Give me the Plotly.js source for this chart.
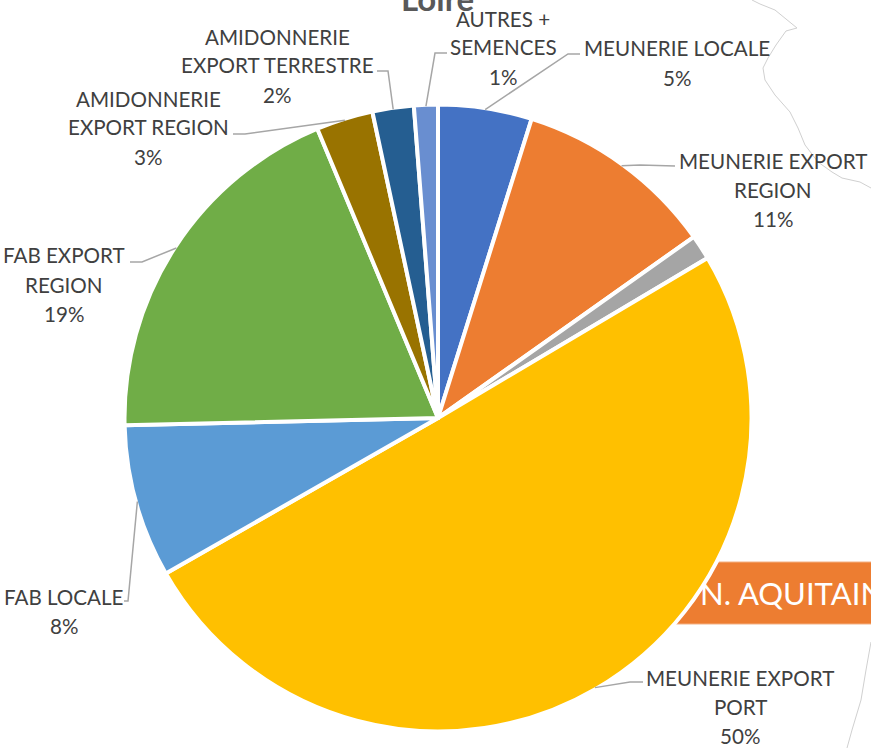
<!DOCTYPE html>
<html><head><meta charset="utf-8">
<script src="https://cdn.plot.ly/plotly-3.0.1.min.js"></script>
<style>html,body{margin:0;padding:0;background:#fff;overflow:hidden}#c{width:871px;height:748px}</style>
</head><body><div id="c"></div>
<script>
const W = 871, H = 748;
const categories = ['MEUNERIE LOCALE','MEUNERIE EXPORT REGION','GRIS','MEUNERIE EXPORT PORT','FAB LOCALE','FAB EXPORT REGION','AMIDONNERIE EXPORT REGION','AMIDONNERIE EXPORT TERRESTRE','AUTRES + SEMENCES'];
const values = [4.83,10.37,1.28,50.28,7.9,19.08,2.93,2.13,1.23];
const colors = ['#4472C4','#ED7D31','#A5A5A5','#FFC000','#5B9BD5','#70AD47','#997300','#255E91','#698ED0'];
const labelLines = [['MEUNERIE LOCALE','5%'],['MEUNERIE EXPORT','REGION','11%'],null,['MEUNERIE EXPORT','PORT','50%'],['FAB LOCALE','8%'],['FAB EXPORT','REGION','19%'],['AMIDONNERIE','EXPORT REGION','3%'],['AMIDONNERIE','EXPORT TERRESTRE','2%'],['AUTRES +','SEMENCES','1%']];
const labelCenterX = [677,773,null,740,64,64,148,277,503];
const labelFirstY = [48.5,160.5,null,677.5,596.5,255.5,98.5,36.5,18.5];
const leaderElbows = [[[568,54],[580,54]],[[640,165],[675,166]],null,[[630,682],[643,682]],[[128,601],[124,601]],[[142,262],[130,262]],[[245,134],[233,134]],[[388,71],[377,71]],[[435,53],[447,53]]];
const cx = 438, cy = 418, R = 312, Rd = 313.5, lineGap = 29, fontSize = 20.6;
const px = x => x / W, py = y => 1 - y / H;
const mapLines = [
  [[752,0],[760,4],[775,10],[797,28],[786,31],[776,45],[768,58],[763,68],[765,80],[775,95],[790,112],[798,128],[805,145],[818,162],[832,172],[842,178],[860,182],[871,188]],
  [[871,642],[866,670],[861,700],[852,730],[847,748]]
];
const toPath = pts => pts.map((p,i)=>(i?'L':'M')+px(p[0]).toFixed(5)+' '+py(p[1]).toFixed(5)).join(' ');
const shapes = mapLines.map(l=>({type:'path',xref:'paper',yref:'paper',layer:'below',path:toPath(l),line:{color:'#d0d0d0',width:1}}));
shapes.push({type:'rect',xref:'paper',yref:'paper',layer:'below',x0:px(640),x1:1.01,y0:py(624),y1:py(562),fillcolor:'#ED7D31',line:{color:'#F4B183',width:1}});
const total = values.reduce((a,b)=>a+b,0);
let acc = 0;
const annotations = [];
values.forEach((v,i)=>{
  const mid = (acc + v/2) / total * 2 * Math.PI; acc += v;
  if (!labelLines[i]) return;
  const start = [cx + R*Math.sin(mid), cy - R*Math.cos(mid)];
  shapes.push({type:'path',xref:'paper',yref:'paper',layer:'above',path:toPath([start].concat(leaderElbows[i])),line:{color:'#A6A6A6',width:1.5}});
  labelLines[i].forEach((t,j)=>annotations.push({xref:'paper',yref:'paper',x:px(labelCenterX[i]),y:py(labelFirstY[i]+j*lineGap),text:t,showarrow:false,xanchor:'center',yanchor:'middle',font:{family:'Lato, sans-serif',size:fontSize,color:'#404040'}}));
});
annotations.push({xref:'paper',yref:'paper',x:px(437),y:py(-2),text:'<b>Loire</b>',showarrow:false,xanchor:'center',yanchor:'middle',font:{family:'Lato, sans-serif',size:33,color:'#595959'}});
annotations.push({xref:'paper',yref:'paper',x:px(698),y:py(593),text:'N. AQUITAINE',showarrow:false,xanchor:'left',yanchor:'middle',font:{family:'Lato, sans-serif',size:31,color:'#ffffff'}});
const trace = {type:'pie',labels:categories,values:values,sort:false,direction:'clockwise',rotation:0,textinfo:'none',hoverinfo:'label+percent',
  marker:{colors:colors,line:{color:'#ffffff',width:4}},
  domain:{x:[px(cx-Rd),px(cx+Rd)],y:[py(cy+Rd),py(cy-Rd)]},showlegend:false};
Plotly.newPlot('c',[trace],{width:W,height:H,margin:{l:0,r:0,t:0,b:0},paper_bgcolor:'#fff',showlegend:false,shapes,annotations},{displayModeBar:false,staticPlot:true});
</script></body></html>
